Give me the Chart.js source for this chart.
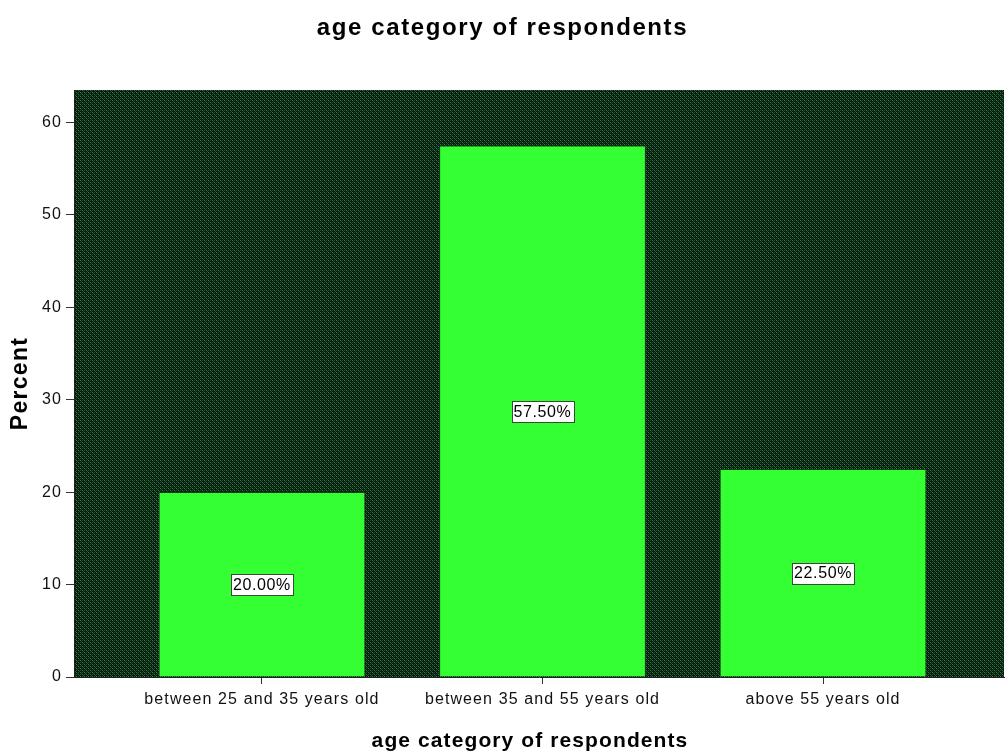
<!DOCTYPE html>
<html>
<head>
<meta charset="utf-8">
<script src="https://cdn.jsdelivr.net/npm/chart.js@4/dist/chart.umd.min.js"></script>
<style>
  html, body { margin: 0; padding: 0; background: #ffffff; }
  #wrap { width: 1005px; height: 753px; }
</style>
</head>
<body>
<div id="wrap"><canvas id="c" width="1005" height="753"></canvas></div>
<script>
const chartTitle = 'age category of respondents';
const xTitle = 'age category of respondents';
const yTitle = 'Percent';
const categories = ['between 25 and 35 years old', 'between 35 and 55 years old', 'above 55 years old'];
const percents = [20.00, 57.50, 22.50];
const yTicks = [0, 10, 20, 30, 40, 50, 60];

const FONT = '"Liberation Sans", Arial, sans-serif';

// dark green cross-hatched fill for the plot area
function makeHatch(ctx) {
  const t = document.createElement('canvas');
  t.width = 4; t.height = 4;
  const g = t.getContext('2d');
  g.fillStyle = '#061a0c';
  g.fillRect(0, 0, 4, 4);
  g.fillStyle = '#33804c';
  g.fillRect(0, 0, 1, 1);
  g.fillRect(2, 2, 1, 1);
  g.fillStyle = '#1a5230';
  g.fillRect(1, 1, 1, 1);
  g.fillRect(3, 3, 1, 1);
  g.fillRect(2, 0, 1, 1);
  g.fillRect(0, 2, 1, 1);
  return ctx.createPattern(t, 'repeat');
}

// spacing used for the tick labels that Chart.js draws itself
const tickSpacing = {
  id: 'tickSpacing',
  beforeUpdate(chart) { chart.ctx.letterSpacing = '1.1px'; },
  beforeDraw(chart) { chart.ctx.letterSpacing = '1.1px'; }
};

const plotBackground = {
  id: 'plotBackground',
  beforeDraw(chart) {
    const { ctx, chartArea: a } = chart;
    ctx.save();
    ctx.fillStyle = makeHatch(ctx);
    ctx.fillRect(a.left, a.top, a.right - a.left, a.bottom - a.top);
    ctx.restore();
  }
};

function drawText(ctx, txt, x, y, font, spacing, angle) {
  ctx.save();
  ctx.translate(x, y);
  if (angle) ctx.rotate(angle);
  ctx.font = font;
  ctx.letterSpacing = spacing;
  ctx.fillStyle = '#000000';
  ctx.textAlign = 'center';
  ctx.textBaseline = 'middle';
  ctx.fillText(txt, 0, 0);
  ctx.restore();
}

// chart title and axis titles
const titles = {
  id: 'titles',
  afterDraw(chart) {
    const { ctx, chartArea: a, width } = chart;
    drawText(ctx, chartTitle, width / 2, 28, 'bold 24px ' + FONT, '1.6px', 0);
    drawText(ctx, xTitle, (a.left + a.right) / 2 - 9, 741, 'bold 21px ' + FONT, '1.1px', 0);
    drawText(ctx, yTitle, 21, (a.top + a.bottom) / 2, 'bold 23px ' + FONT, '1.3px', -Math.PI / 2);
  }
};

// boxed percentage labels centred in each bar
const boxedLabels = {
  id: 'boxedLabels',
  afterDatasetsDraw(chart) {
    const { ctx } = chart;
    const meta = chart.getDatasetMeta(0);
    const yScale = chart.scales.y;
    ctx.save();
    ctx.font = '16px ' + FONT;
    ctx.letterSpacing = '0.6px';
    ctx.textAlign = 'center';
    ctx.textBaseline = 'middle';
    meta.data.forEach((bar, i) => {
      const v = percents[i];
      const txt = v.toFixed(2) + '%';
      const cx = bar.x;
      const cy = yScale.getPixelForValue(v / 2);
      const w = Math.round(ctx.measureText(txt).width + 4);
      const h = 21;
      const bx = Math.round(cx - w / 2) + 0.5;
      const by = Math.round(cy - h / 2) + 0.5;
      ctx.fillStyle = '#ffffff';
      ctx.fillRect(bx, by, w, h);
      ctx.strokeStyle = '#3a4a3a';
      ctx.lineWidth = 1;
      ctx.strokeRect(bx, by, w, h);
      ctx.fillStyle = '#000000';
      ctx.fillText(txt, cx, cy + 1);
    });
    ctx.restore();
  }
};

new Chart(document.getElementById('c'), {
  type: 'bar',
  data: {
    datasets: [{
      data: percents.map((v, i) => ({ x: i, y: v })),
      backgroundColor: '#33ff33',
      borderColor: '#1c3a1c',
      borderWidth: 1,
      borderSkipped: 'bottom',
      barPercentage: 0.737,
      categoryPercentage: 1.0
    }]
  },
  options: {
    responsive: false,
    animation: false,
    devicePixelRatio: 1,
    layout: { padding: { left: 0, right: 1, top: 90, bottom: 0 } },
    plugins: {
      legend: { display: false },
      tooltip: { enabled: false },
      title: { display: false }
    },
    scales: {
      x: {
        type: 'linear',
        min: -0.67,
        max: 2.645,
        offset: false,
        afterBuildTicks(scale) {
          scale.ticks = categories.map((c, i) => ({ value: i }));
        },
        afterFit(scale) { scale.height = 76; },
        ticks: {
          callback: (v) => categories[v],
          color: '#111111',
          font: { family: FONT, size: 16 },
          padding: 6,
          maxRotation: 0,
          autoSkip: false
        },
        grid: { display: true, offset: false, drawOnChartArea: false, tickLength: 7, color: '#333333' },
        border: { display: true, color: '#222222', width: 1 }
      },
      y: {
        min: 0,
        max: 63.5,
        afterBuildTicks(scale) {
          scale.ticks = yTicks.map(v => ({ value: v }));
        },
        afterFit(scale) { scale.width = 74; },
        ticks: {
          color: '#111111',
          font: { family: FONT, size: 16 },
          padding: 4
        },
        grid: { display: true, drawOnChartArea: false, tickLength: 8, color: '#333333' },
        border: { display: true, color: '#222222', width: 1 }
      }
    }
  },
  plugins: [tickSpacing, plotBackground, boxedLabels, titles]
});
</script>
</body>
</html>
